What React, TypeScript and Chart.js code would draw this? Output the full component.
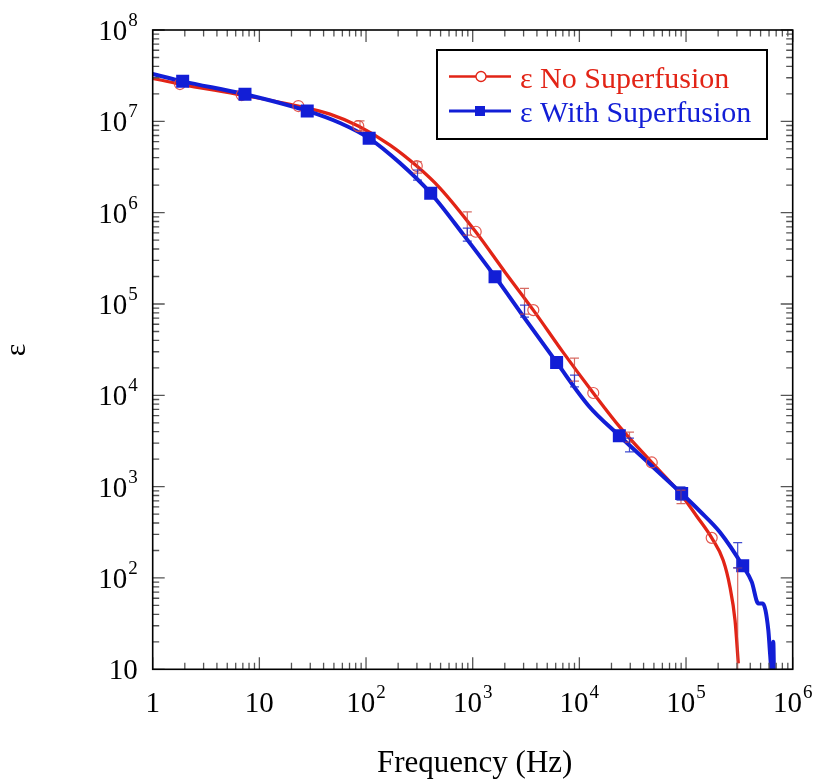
import React, { useEffect, useRef } from "react";
import { Chart, registerables } from "chart.js";

Chart.register(...registerables);

// ---- data ----
const redCurveFreq = [1, 1.8, 6.83, 23.2, 45.9, 84.6, 168, 299, 493, 1067, 2010, 3700, 7020, 13500, 24000, 47700, 87800, 126000, 174000, 223000, 258000, 288000, 309000];
const redCurveEps = [2.96e7, 2.56e7, 1.94e7, 1.47e7, 1.2e7, 8.88e6, 5.5e6, 3.24e6, 1.86e6, 6.18e5, 2.23e5, 8.57e4, 2.97e4, 1.06e4, 4480, 1840, 847, 474, 275, 156, 79.8, 34.4, 11.6];

const blueCurveFreq = [1, 1.91, 7.33, 28.1, 57, 107, 208, 404, 811, 1620, 3160, 6120, 12300, 23700, 45900, 91000, 135000, 208000, 340000, 413000, 476000, 523000, 591000, 613000, 636000, 658000, 668000];
const blueCurveEps = [3.3e7, 2.74e7, 1.98e7, 1.3e7, 9.58e6, 6.51e6, 3.49e6, 1.63e6, 5.82e5, 1.99e5, 6.65e4, 2.29e4, 7600, 3610, 1760, 841, 538, 317, 136, 90.6, 52.5, 52.5, 26.8, 15, 9.3, 20, 8.6];

const redMarkFreq = [1.8, 6.83, 23.2, 84.6, 299, 1067, 3700, 13500, 47700, 174000];
const redMarkEps = [2.56e7, 1.94e7, 1.47e7, 8.88e6, 3.24e6, 6.18e5, 8.57e4, 1.06e4, 1840, 275];

const blueMarkFreq = [1.91, 7.33, 28.1, 107, 404, 1620, 6120, 23700, 91000, 340000];
const blueMarkEps = [2.74e7, 1.98e7, 1.3e7, 6.51e6, 1.63e6, 1.99e5, 2.29e4, 3610, 841, 136];

const redErrFreq = [87.8, 304, 890, 3060, 9000, 29500, 89700, 305000];
const redErrHigh = [1.01e7, 3.61e6, 1.02e6, 1.48e5, 2.55e4, 3950, 914, 129];
const redErrLow = [7.83e6, 2.71e6, 5.68e5, 7.74e4, 1.43e4, 3070, 653, 9];

const blueErrFreq = [304, 890, 3060, 9000, 29500, 89700, 305000];
const blueErrHigh = [2.93e6, 6.78e5, 9.72e4, 1.66e4, 3390, 993, 244];
const blueErrLow = [2.27e6, 4.88e5, 7.18e4, 1.24e4, 2400, 711, 129];

const xExponents = [0, 1, 2, 3, 4, 5, 6];
const yExponents = [1, 2, 3, 4, 5, 6, 7, 8];

const seriesNames = ["ε No Superfusion", "ε With Superfusion"];
const xTitle = "Frequency (Hz)";
const yTitle = "ε";

const RED = "rgb(226,36,22)";
const BLUE = "rgb(18,30,214)";
const SERIF = '"Liberation Serif", "Times New Roman", serif';

function pts(xs: number[], ys: number[]) {
  return xs.map((x, i) => ({ x, y: ys[i] }));
}

function drawPowLabel(ctx: CanvasRenderingContext2D, exp: number, x: number, baseline: number, align: "center" | "right") {
  ctx.textAlign = "left";
  ctx.textBaseline = "alphabetic";
  const main = exp === 0 ? "1" : "10";
  ctx.font = `29px ${SERIF}`;
  const wMain = ctx.measureText(main).width;
  let wSup = 0;
  const sup = exp >= 2 ? String(exp) : "";
  if (sup) {
    ctx.font = `19px ${SERIF}`;
    wSup = ctx.measureText(sup).width + 1;
  }
  const total = wMain + wSup;
  const x0 = align === "center" ? x - total / 2 : x - total;
  ctx.font = `29px ${SERIF}`;
  ctx.fillText(main, x0, baseline);
  if (sup) {
    ctx.font = `19px ${SERIF}`;
    ctx.fillText(sup, x0 + wMain + 1, baseline - 14);
  }
}

const axesPlugin = {
  id: "customAxes",
  afterDatasetsDraw(chart: any) {
    const { ctx, chartArea } = chart;
    const xs = chart.scales.x;
    const ys = chart.scales.y;
    ctx.save();
    ctx.beginPath();
    ctx.rect(chartArea.left, chartArea.top, chartArea.right - chartArea.left, chartArea.bottom - chartArea.top);
    ctx.clip();
    const drawBars = (f: number[], hi: number[], lo: number[], color: string) => {
      ctx.strokeStyle = color;
      ctx.lineWidth = 1.2;
      f.forEach((fr, i) => {
        const px = xs.getPixelForValue(fr);
        const pHi = ys.getPixelForValue(hi[i]);
        const pLo = ys.getPixelForValue(lo[i]);
        ctx.beginPath();
        ctx.moveTo(px, pHi);
        ctx.lineTo(px, pLo);
        ctx.moveTo(px - 4.5, pHi);
        ctx.lineTo(px + 4.5, pHi);
        ctx.moveTo(px - 4.5, pLo);
        ctx.lineTo(px + 4.5, pLo);
        ctx.stroke();
      });
    };
    drawBars(redErrFreq, redErrHigh, redErrLow, "rgba(205,70,60,0.8)");
    drawBars(blueErrFreq, blueErrHigh, blueErrLow, "rgba(30,45,200,0.85)");
    ctx.restore();
  },
  afterDraw(chart: any) {
    const { ctx, chartArea } = chart;
    const xs = chart.scales.x;
    const ys = chart.scales.y;
    const { left, right, top, bottom } = chartArea;
    ctx.save();
    // ticks
    ctx.strokeStyle = "#555";
    ctx.lineWidth = 1.3;
    const MAJ = 12;
    const MIN = 6.5;
    for (let e = 0; e <= 6; e++) {
      for (let k = 1; k <= 9; k++) {
        const v = k * Math.pow(10, e);
        if (v > 1e6) break;
        const px = xs.getPixelForValue(v);
        const len = k === 1 ? MAJ : MIN;
        ctx.beginPath();
        ctx.moveTo(px, bottom);
        ctx.lineTo(px, bottom - len);
        ctx.moveTo(px, top);
        ctx.lineTo(px, top + len);
        ctx.stroke();
      }
    }
    for (let e = 1; e <= 8; e++) {
      for (let k = 1; k <= 9; k++) {
        const v = k * Math.pow(10, e);
        if (v > 1e8) break;
        const py = ys.getPixelForValue(v);
        const len = k === 1 ? MAJ : MIN;
        ctx.beginPath();
        ctx.moveTo(left, py);
        ctx.lineTo(left + len, py);
        ctx.moveTo(right, py);
        ctx.lineTo(right - len, py);
        ctx.stroke();
      }
    }
    // frame
    ctx.strokeStyle = "#000";
    ctx.lineWidth = 1.6;
    ctx.strokeRect(left, top, right - left, bottom - top);

    // tick labels
    ctx.fillStyle = "#000";
    xExponents.forEach((e) => {
      drawPowLabel(ctx, e, xs.getPixelForValue(Math.pow(10, e)), bottom + 43, "center");
    });
    yExponents.forEach((e) => {
      drawPowLabel(ctx, e, left - 15, ys.getPixelForValue(Math.pow(10, e)) + 10, "right");
    });

    // axis titles
    ctx.font = `31px ${SERIF}`;
    ctx.textAlign = "center";
    ctx.textBaseline = "alphabetic";
    ctx.fillText(xTitle, (left + right) / 2 + 2, 772);
    ctx.save();
    ctx.translate(18, 350);
    ctx.rotate(-Math.PI / 2);
    ctx.font = `30px ${SERIF}`;
    ctx.fillText(yTitle, 0, 7);
    ctx.restore();

    // legend
    const bx = 437, by = 50, bw = 330, bh = 89;
    ctx.fillStyle = "#fff";
    ctx.fillRect(bx, by, bw, bh);
    ctx.strokeStyle = "#000";
    ctx.lineWidth = 2;
    ctx.strokeRect(bx, by, bw, bh);
    // red entry
    ctx.strokeStyle = RED;
    ctx.lineWidth = 2.5;
    ctx.beginPath();
    ctx.moveTo(449, 76.5);
    ctx.lineTo(511, 76.5);
    ctx.stroke();
    ctx.fillStyle = "#fff";
    ctx.lineWidth = 1.3;
    ctx.beginPath();
    ctx.arc(481, 76.5, 5, 0, Math.PI * 2);
    ctx.fill();
    ctx.stroke();
    // blue entry
    ctx.strokeStyle = BLUE;
    ctx.lineWidth = 3;
    ctx.beginPath();
    ctx.moveTo(449, 111);
    ctx.lineTo(511, 111);
    ctx.stroke();
    ctx.fillStyle = BLUE;
    ctx.fillRect(475, 106, 10, 10);
    ctx.font = `30px ${SERIF}`;
    ctx.textAlign = "left";
    ctx.fillStyle = RED;
    ctx.fillText(seriesNames[0], 520, 88);
    ctx.fillStyle = BLUE;
    ctx.fillText(seriesNames[1], 520, 122);
    ctx.restore();
  },
};

export default function App() {
  const ref = useRef<HTMLCanvasElement | null>(null);
  useEffect(() => {
    document.body.style.margin = "0";
    const canvas = ref.current;
    if (!canvas) return;
    const chart = new Chart(canvas, {
      type: "line",
      data: {
        datasets: [
          {
            label: seriesNames[1] + " markers",
            data: pts(blueMarkFreq, blueMarkEps),
            showLine: false,
            pointStyle: "rect",
            pointRadius: 9.2,
            pointBackgroundColor: BLUE,
            pointBorderWidth: 0,
            borderColor: BLUE,
            order: 1,
          },
          {
            label: seriesNames[0] + " markers",
            data: pts(redMarkFreq, redMarkEps),
            showLine: false,
            pointStyle: "circle",
            pointRadius: 5.5,
            pointBackgroundColor: "rgba(0,0,0,0)",
            pointBorderColor: "rgba(225,70,60,0.9)",
            pointBorderWidth: 1.2,
            borderColor: RED,
            order: 2,
          },
          {
            label: seriesNames[1],
            data: pts(blueCurveFreq, blueCurveEps),
            borderColor: BLUE,
            borderWidth: 4,
            pointRadius: 0,
            cubicInterpolationMode: "monotone",
            fill: false,
            order: 3,
          },
          {
            label: seriesNames[0],
            data: pts(redCurveFreq, redCurveEps),
            borderColor: RED,
            borderWidth: 3.3,
            pointRadius: 0,
            cubicInterpolationMode: "monotone",
            fill: false,
            order: 4,
          },
        ],
      },
      options: {
        responsive: false,
        animation: false,
        devicePixelRatio: 1,
        parsing: true,
        layout: { padding: { left: 152.7, top: 30, right: 22.3, bottom: 112.7 } },
        scales: {
          x: { type: "logarithmic", min: 1, max: 1e6, display: false },
          y: { type: "logarithmic", min: 10, max: 1e8, display: false },
        },
        plugins: {
          legend: { display: false },
          tooltip: { enabled: false },
        },
      },
      plugins: [axesPlugin],
    } as any);
    return () => chart.destroy();
  }, []);
  return (
    <div style={{ position: "absolute", left: 0, top: 0, width: 815, height: 782, background: "#fff" }}>
      <canvas ref={ref} width={815} height={782} />
    </div>
  );
}
